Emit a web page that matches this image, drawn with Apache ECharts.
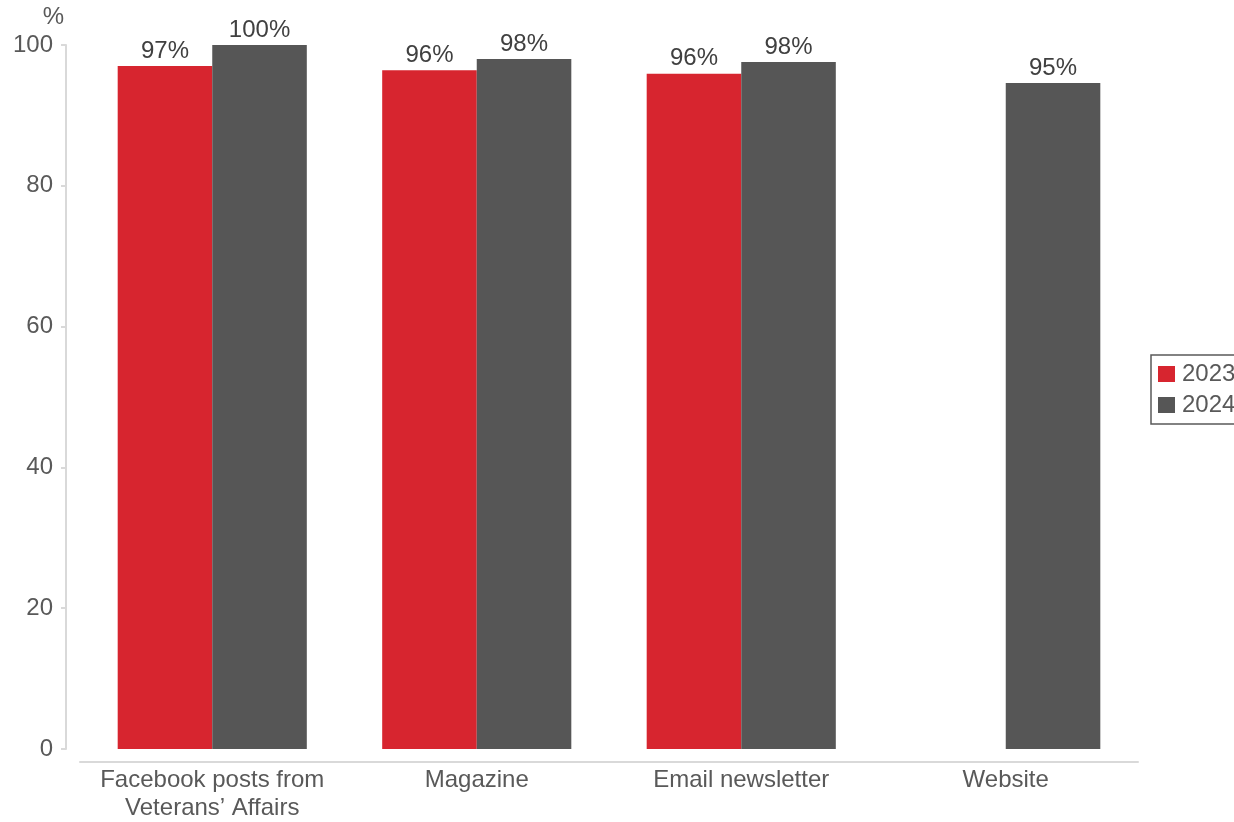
<!DOCTYPE html>
<html>
<head>
<meta charset="utf-8">
<script src="https://cdn.jsdelivr.net/npm/echarts@6/dist/echarts.min.js"></script>
<style>
  html, body { margin: 0; padding: 0; background: #fff; }
  #chart { width: 1234px; height: 822px; }
</style>
</head>
<body>
<div id="chart"></div>
<script>
// Share of respondents aware of each channel, by survey year
const categories = ['Facebook posts from\nVeterans\u2019 Affairs', 'Magazine', 'Email newsletter', 'Website'];
const seriesNames = ['2023', '2024'];
const values2023 = [97.0, 96.4, 95.9, null];
const values2024 = [100.0, 98.0, 97.6, 94.6];
const yTicks = [0, 20, 40, 60, 80, 100];

const FONT = '"Liberation Sans", Arial, sans-serif';
const chart = echarts.init(document.getElementById('chart'), null, { renderer: 'canvas' });

const labelStyle = {
  show: true,
  position: 'top',
  distance: 3,
  fontFamily: FONT,
  fontSize: 24,
  color: '#404040',
  formatter: p => (p.value == null ? '' : Math.round(p.value) + '%')
};

chart.setOption({
  animation: false,
  textStyle: { fontFamily: FONT },
  grid: { left: 80, right: 96, top: 45, bottom: 70, containLabel: false },
  legend: {
    orient: 'vertical',
    left: 1151,
    top: 355,
    data: seriesNames,
    icon: 'rect',
    itemWidth: 17,
    itemHeight: 16,
    itemGap: 7,
    padding: [7, 10, 7, 7],
    borderColor: '#595959',
    borderWidth: 1.5,
    borderRadius: 0,
    textStyle: { fontFamily: FONT, fontSize: 24, color: '#595959', padding: [0, 0, 0, 2] }
  },
  xAxis: {
    type: 'category',
    data: categories,
    offset: 13,
    axisLine: { show: true, onZero: false, lineStyle: { color: '#d9d9d9', width: 2 } },
    axisTick: { show: false },
    axisLabel: {
      fontFamily: FONT,
      fontSize: 24,
      color: '#595959',
      lineHeight: 28,
      margin: 4,
      interval: 0
    }
  },
  yAxis: {
    type: 'value',
    min: 0,
    max: 100,
    interval: 20,
    offset: 14,
    name: '%',
    nameLocation: 'end',
    nameGap: 16,
    nameTextStyle: { fontFamily: FONT, fontSize: 24, color: '#595959', align: 'right', padding: [0, 2, 0, 0] },
    axisLine: { show: true, lineStyle: { color: '#d9d9d9', width: 2 } },
    axisTick: { show: true, inside: false, length: 5, lineStyle: { color: '#d9d9d9', width: 2 } },
    splitLine: { show: false },
    axisLabel: {
      fontFamily: FONT,
      fontSize: 24,
      color: '#595959',
      margin: 13,
      formatter: v => (yTicks.includes(v) ? String(v) : '')
    }
  },
  series: [
    {
      name: seriesNames[0],
      type: 'bar',
      data: values2023,
      barGap: '0%',
      barCategoryGap: '28.5%',
      itemStyle: { color: '#D7252F' },
      label: labelStyle
    },
    {
      name: seriesNames[1],
      type: 'bar',
      data: values2024,
      barGap: '0%',
      barCategoryGap: '28.5%',
      itemStyle: { color: '#565656' },
      label: labelStyle
    }
  ]
});
</script>
</body>
</html>
